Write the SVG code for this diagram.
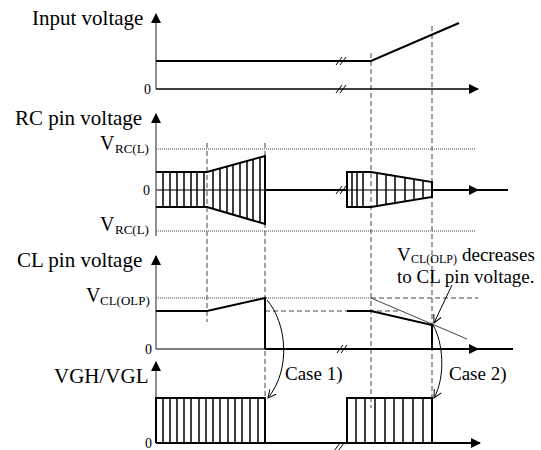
<svg xmlns="http://www.w3.org/2000/svg" width="541" height="450" viewBox="0 0 541 450">
<defs>
<style>
text{font-family:"Liberation Serif","Times New Roman",serif;fill:#000}
.lbl{font-size:21px}
.zero{font-size:14px}
.sub{font-size:13px}
.ax{stroke:#555;stroke-width:1.3;fill:none}
.axk{stroke:#000;stroke-width:2;fill:none}
.sig{stroke:#000;stroke-width:2;fill:none}
.stripe{stroke:#000;stroke-width:1.5;fill:none}
.dash{stroke:#444;stroke-width:1;stroke-dasharray:5,3;fill:none}
.dot{stroke:#444;stroke-width:1;stroke-dasharray:1,1;fill:none}
.thin{stroke:#444;stroke-width:1;fill:none}
.brk{stroke:#000;stroke-width:1;fill:none}
</style>
<marker id="ah" markerWidth="10" markerHeight="10" refX="9" refY="5" orient="auto" markerUnits="userSpaceOnUse">
<path d="M0,0 L10,5 L0,10 Z" fill="#000"/>
</marker>
<marker id="oa" markerWidth="10" markerHeight="10" refX="9" refY="5" orient="auto" markerUnits="userSpaceOnUse">
<path d="M1,1 L9,5 L1,9" fill="none" stroke="#000" stroke-width="1"/>
</marker>
</defs>

<g id="guides">
<line class="dash" x1="207" y1="143" x2="207" y2="322"/>
<line class="dash" x1="265" y1="143" x2="265" y2="398"/>
<line class="dash" x1="371" y1="53" x2="371" y2="408"/>
<line class="dash" x1="432" y1="26" x2="432" y2="398"/>
<line class="dot" x1="156" y1="149" x2="475" y2="149"/>
<line class="dot" x1="156" y1="231" x2="475" y2="231"/>
<line class="dot" x1="156" y1="298" x2="371" y2="298"/>
<line class="dash" x1="371" y1="298" x2="478" y2="298"/>
<line class="dash" x1="265" y1="311" x2="398" y2="311"/>
<line class="thin" x1="371" y1="298" x2="467" y2="339"/>
</g>

<g id="panel-input">
<text class="lbl" x="32" y="25">Input voltage</text>
<text class="zero" x="144" y="94">0</text>
<line class="ax" x1="156" y1="89" x2="156" y2="14" marker-end="url(#ah)"/>
<line class="axk" x1="156" y1="89" x2="478" y2="89" marker-end="url(#ah)" style="stroke-width:1.5"/>
<polyline class="sig" points="156,61 371,61 459,23"/>
<path class="brk" d="M336,65 L342,57 M340,65 L346,57 M336,93 L342,85 M340,93 L346,85"/>
</g>

<g id="panel-rc">
<text class="lbl" x="15" y="125">RC pin voltage</text>
<text x="100" y="150" style="font-size:20px">V</text>
<text class="sub" x="115" y="153">RC(L)</text>
<text x="100" y="231" style="font-size:20px">V</text>
<text class="sub" x="115" y="234">RC(L)</text>
<text class="zero" x="143" y="195">0</text>
<line class="ax" x1="156" y1="236" x2="156" y2="114" marker-end="url(#ah)"/>
<line class="ax" x1="156" y1="190" x2="265" y2="190"/>
<line class="axk" x1="265" y1="190" x2="347" y2="190"/>
<line class="ax" x1="347" y1="190" x2="432" y2="190"/>
<line class="axk" x1="432" y1="190" x2="478" y2="190" marker-end="url(#ah)"/>
<line class="axk" x1="470" y1="190" x2="508" y2="190"/>
<path class="brk" d="M336,194 L342,186 M340,194 L346,186"/>
<path class="sig" d="M156,172 L207,172 L265,156 L265,224 L207,207 L156,207"/>
<path class="stripe" d="M163,172V207M170,172V207M177,172V207M184,172V207M191,172V207M197,172V207M204,172V207
M213,170.3V208.7M220,168.4V210.7M227,166.5V212.9M233,164.8V214.6M240,162.9V216.7M247,161V218.8M253,159.3V220.5M260,157.4V222.5"/>
<path class="sig" d="M347,172 L371,172 L432,182 L432,197 L371,207 L347,207 Z"/>
<path class="stripe" d="M352,172V207M357,172V207M363,172V207M377,173V206M386,174.5V204.5M395,175.9V203.1M405,177.6V201.4M414,179V200M423,180.5V198.5"/>
</g>

<g id="panel-cl">
<text class="lbl" x="17" y="267">CL pin voltage</text>
<text x="86" y="302" style="font-size:20px">V</text>
<text class="sub" x="100" y="305">CL(OLP)</text>
<text class="zero" x="145" y="354">0</text>
<line class="ax" x1="156" y1="349" x2="156" y2="256" marker-end="url(#ah)"/>
<line class="ax" x1="156" y1="349" x2="265" y2="349"/>
<line class="axk" x1="265" y1="349" x2="478" y2="349" marker-end="url(#ah)"/>
<line class="axk" x1="470" y1="349" x2="513" y2="349"/>
<path class="brk" d="M337,353 L343,345 M341,353 L347,345"/>
<polyline class="sig" points="156,311 207,311 265,298 265,349"/>
<polyline class="sig" points="347,311 371,311 432,325 432,349"/>
</g>

<g id="annotation">
<text x="397" y="261" style="font-size:19px">V</text>
<text x="411" y="263" style="font-size:12px">CL(OLP)</text>
<text x="462" y="261" style="font-size:19px">decreases</text>
<text x="397" y="283" style="font-size:19px">to CL pin voltage.</text>
</g>

<g id="panel-vgh">
<text class="lbl" x="54" y="383">VGH/VGL</text>
<text class="zero" x="145" y="448">0</text>
<line class="ax" x1="156" y1="443" x2="156" y2="362" marker-end="url(#ah)"/>
<line class="axk" x1="156" y1="443" x2="480" y2="443" marker-end="url(#ah)"/>
<path class="brk" d="M334,451 L340,443 M338,451 L344,443"/>
<path class="sig" d="M156,443 L156,398 L265,398 L265,443"/>
<path class="stripe" d="M163,398V443M170,398V443M177,398V443M184,398V443M191,398V443M199,398V443M206,398V443M213,398V443M220,398V443M228,398V443M235,398V443M242,398V443M250,398V443M258,398V443"/>
<path class="sig" d="M347,443 L347,398 L432,398 L432,443"/>
<path class="stripe" d="M356,398V443M365,398V443M375,398V443M385,398V443M394,398V443M403,398V443M413,398V443M423,398V443"/>
</g>

<g id="connectors">
<line class="thin" x1="452" y1="285" x2="434" y2="323" marker-end="url(#oa)" style="stroke:#000"/>
<path class="thin" d="M267,300 C286,322 292,368 268,398" marker-end="url(#oa)" style="stroke:#000"/>
<path class="thin" d="M433,325 C443,342 446,376 434,398" marker-end="url(#oa)" style="stroke:#000"/>
<text x="285" y="380" style="font-size:19px">Case 1)</text>
<text x="449" y="380" style="font-size:19px">Case 2)</text>
</g>
</svg>
